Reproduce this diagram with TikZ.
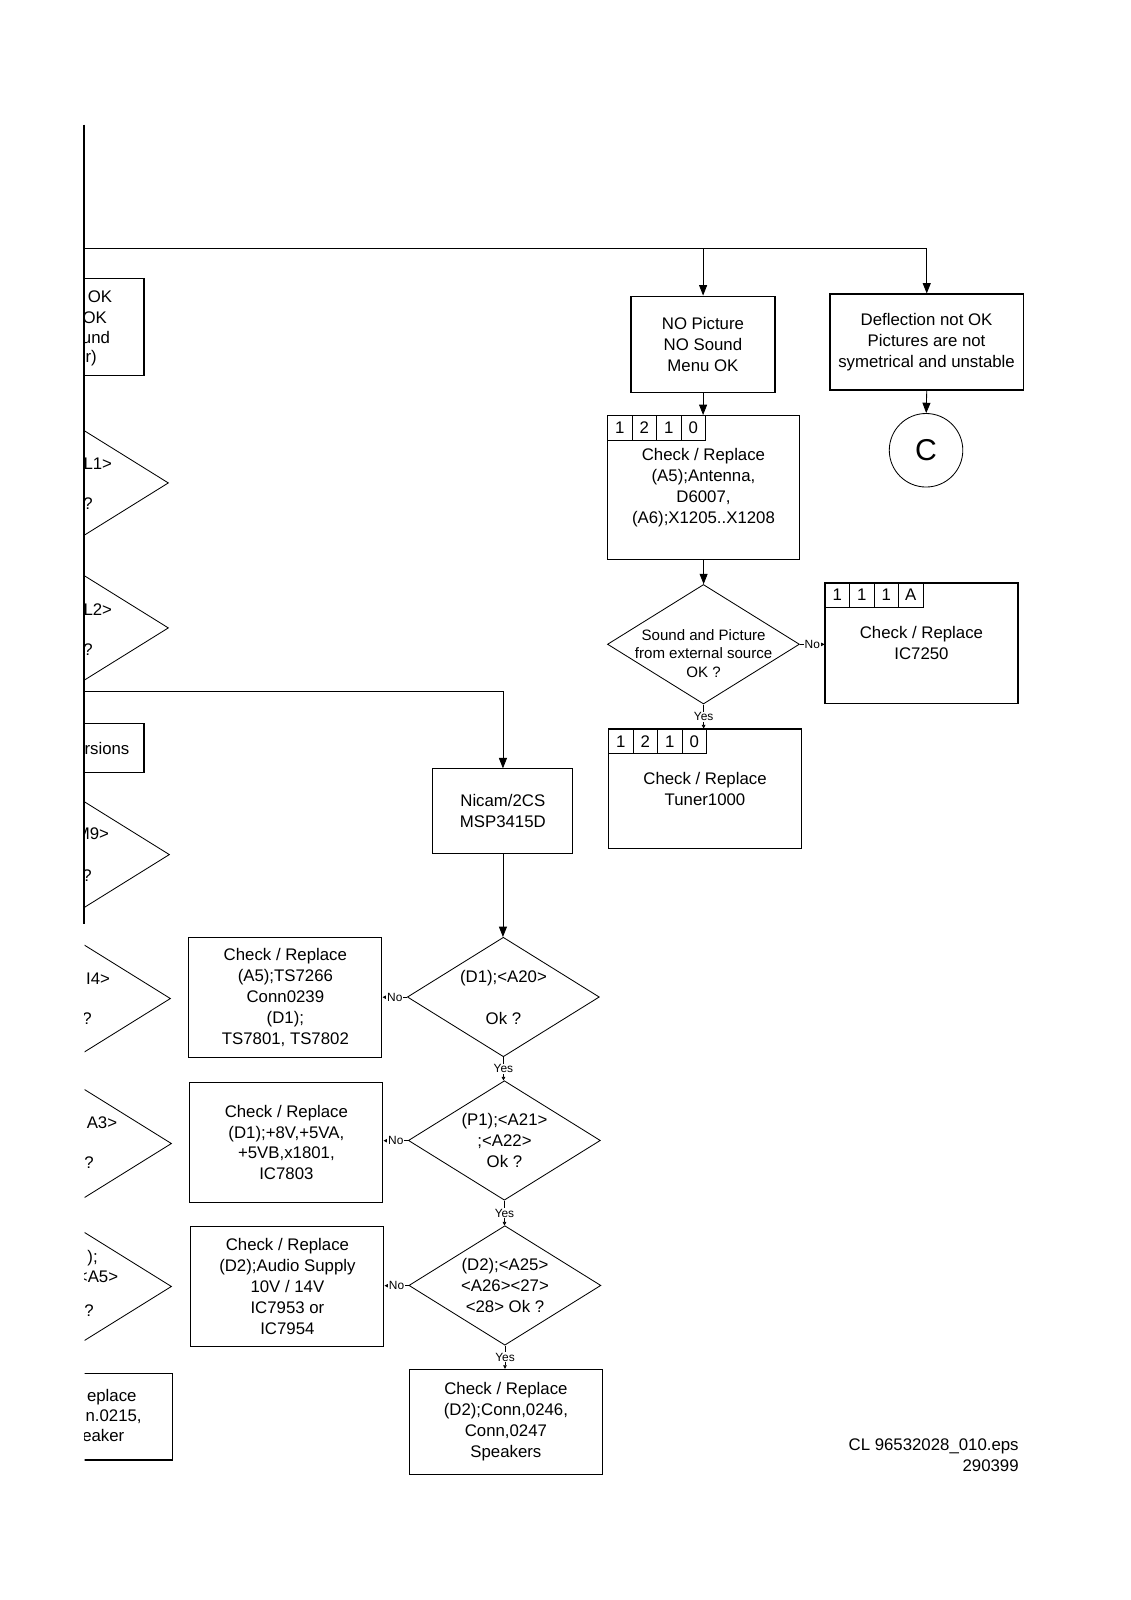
\documentclass[tikz,border=0pt]{standalone}
\usepackage{fontspec}
\setmainfont{Liberation Sans}
\usetikzlibrary{shapes.geometric,arrows.meta,calc}
\newcommand{\fmain}{\fontsize{11.7}{14.6}\selectfont}
\newcommand{\fsmall}{\fontsize{8.3}{10}\selectfont}
\newcommand{\fdia}{\fontsize{10.5}{12.8}\selectfont}
\tikzset{>={Triangle[length=2.6mm,width=2mm]}}
\tikzset{
  box/.style={draw,line width=0.8pt,align=center,inner sep=0pt,font=\fmain},
  dia/.style={draw,diamond,line width=0.6pt,inner sep=0pt,minimum width=4.7cm,minimum height=2.925cm},
  cell/.style={draw,line width=0.6pt,minimum size=0.6cm,inner sep=0pt,anchor=north west,font=\fmain},
  tiny/.style={-{Triangle[length=0.9mm,width=0.9mm]},line width=0.5pt},
  lbl/.style={font=\fsmall,fill=white,inner sep=0.6pt},
  dtext/.style={font=\fmain,align=center,inner sep=0pt},
  cut/.style={font=\fmain,anchor=east,inner sep=0pt},
  conn/.style={line width=0.6pt}
}
\newcommand{\tagrow}[3]{%
  \foreach \t [count=\k from 0] in {#3}
    \node[cell] (#1\k) at ($(#2.north west)+(\k*24,0)$) {\t};}

\begin{document}
\begin{tikzpicture}[x=0.025cm,y=-0.025cm,scale=1.021,transform shape]
\useasboundingbox (0,0) rectangle (1107.7,1567.1);
\coordinate (edgetop) at (82,122);
\coordinate (edgebot) at (82,905);
\coordinate (topl) at (82,243);
\coordinate (midl) at (82,677);
\draw[line width=1.6pt] (edgetop) -- (edgebot);

\begin{scope}
\clip (83,0) rectangle (1107,1567);
\node[box,minimum width=2.525cm,minimum height=2.375cm] (okbox) at (90.5,320.5) {};
\node[cut] (ok1) at (110,291) {OK};
\node[cut] (ok2) at (105,311) {OK};
\node[cut] (ok3) at (108,331) {und};
\node[cut] (ok4) at (95,351) {r)};
\node[dia] (q1) at (71,473) {};
\node[cut] (q1a) at (110,454) {L1>};
\node[cut] (q1b) at (91,493) {?};
\node[dia] (q2) at (71,615) {};
\node[cut] (q2a) at (110,597) {L2>};
\node[cut] (q2b) at (91,636) {?};
\node[box,minimum width=2.525cm,minimum height=1.2cm] (verbox) at (90.5,733) {};
\node[cut] (ver) at (127,733) {ersions};
\node[dia] (q3) at (72,837) {};
\node[cut] (q3a) at (107,817) {M9>};
\node[cut] (q3b) at (90,858) {?};
\node[dia] (q4) at (73,978) {};
\node[cut] (q4a) at (108,959) {I4>};
\node[cut] (q4b) at (90,998) {?};
\node[dia] (q5) at (74,1120) {};
\node[cut] (q5a) at (115,1100) {A3>};
\node[cut] (q5b) at (92,1139) {?};
\node[dia] (q6) at (74,1260) {};
\node[cut] (q6a) at (96,1232) {);};
\node[cut] (q6b) at (116,1251) {<A5>};
\node[cut] (q6c) at (92,1284) {?};
\node[box,minimum width=3.225cm,minimum height=2.125cm] (spbox) at (104.5,1387.5) {};
\node[cut] (sp1) at (134,1368) {eplace};
\node[cut] (sp2) at (139,1388) {n.0215,};
\node[cut] (sp3) at (122,1406) {eaker};
\end{scope}

\node[box,minimum width=3.525cm,minimum height=2.35cm] (nopic) at (688.5,337) {NO Picture\\NO Sound\\Menu OK};
\node[box,minimum width=4.725cm,minimum height=2.35cm] (defl) at (907.5,335) {Deflection not OK\\Pictures are not\\symetrical and unstable};
\node[draw,circle,line width=0.6pt,minimum size=1.8cm,inner sep=0pt,font=\fontsize{21}{25}\selectfont] (cC) at (907,441) {C};
\node[box,minimum width=4.7cm,minimum height=3.525cm] (chk1) at (689,477.5) {Check / Replace\\(A5);Antenna,\\D6007,\\(A6);X1205..X1208};
\tagrow{ta}{chk1}{1,2,1,0}
\node[dia,label={[dtext,font=\fdia,yshift=-0.22cm]center:{Sound and Picture\\from external source\\OK ?}}] (d0) at (689,631) {};
\node[box,minimum width=4.725cm,minimum height=2.95cm] (ic) at (902.5,630) {Check / Replace\\IC7250};
\tagrow{tb}{ic}{1,1,1,A}
\node[box,minimum width=4.725cm,minimum height=2.925cm] (tuner) at (690.5,772.5) {Check / Replace\\Tuner1000};
\tagrow{tc}{tuner}{1,2,1,0}

\node[box,minimum width=3.425cm,minimum height=2.075cm] (nicam) at (492.5,794.5) {Nicam/2CS\\MSP3415D};
\node[dia,label={[dtext]center:{(D1);<A20>\\\mbox{}\\Ok ?}}] (d1) at (493,976.5) {};
\node[box,minimum width=4.725cm,minimum height=2.95cm] (nb1) at (279.5,977) {Check / Replace\\(A5);TS7266\\Conn0239\\(D1);\\TS7801, TS7802};
\node[dia,label={[dtext]center:{(P1);<A21>\\;<A22>\\Ok ?}}] (d2) at (494,1117) {};
\node[box,minimum width=4.725cm,minimum height=2.95cm] (nb2) at (280.5,1119) {Check / Replace\\(D1);+8V,+5VA,\\+5VB,x1801,\\IC7803};
\node[dia,label={[dtext]center:{(D2);<A25>\\<A26><27>\\<28> Ok ?}}] (d3) at (494.5,1259) {};
\node[box,minimum width=4.725cm,minimum height=2.95cm] (nb3) at (281.5,1260) {Check / Replace\\(D2);Audio Supply\\10V / 14V\\IC7953 or\\IC7954};
\node[box,minimum width=4.725cm,minimum height=2.575cm] (spk) at (495.5,1392.5) {Check / Replace\\(D2);Conn,0246,\\Conn,0247\\Speakers};

\node[font=\fmain,align=right,anchor=north east,inner sep=0pt] (ref) at (998,1409) {CL 96532028\_010.eps\\290399};

\draw[conn] (topl) -- (topl -| defl);
\draw[conn,->] (topl -| nopic) -- (nopic.north);
\draw[conn,->] (topl -| defl) -- (defl.north);
\draw[conn,->] (defl.south) -- (cC.north);
\draw[conn,->] (nopic.south) -- (nopic.south |- chk1.north);
\draw[conn,->] (chk1.south) -- (d0.north);
\draw[tiny] (d0.east) -- node[lbl]{No} (d0.east -| ic.west);
\draw[tiny] (d0.south) -- node[lbl]{Yes} (d0.south |- tuner.north);
\draw[conn,->] (midl) -| (nicam.north);
\draw[conn,->] (nicam.south) -- (nicam.south |- d1.north);
\draw[tiny] (d1.west) -- node[lbl]{No} (d1.west -| nb1.east);
\draw[tiny] (d1.south) -- node[lbl]{Yes} (d1.south |- d2.north);
\draw[tiny] (d2.west) -- node[lbl]{No} (d2.west -| nb2.east);
\draw[tiny] (d2.south) -- node[lbl]{Yes} (d2.south |- d3.north);
\draw[tiny] (d3.west) -- node[lbl]{No} (d3.west -| nb3.east);
\draw[tiny] (d3.south) -- node[lbl]{Yes} (d3.south |- spk.north);
\end{tikzpicture}
\end{document}
